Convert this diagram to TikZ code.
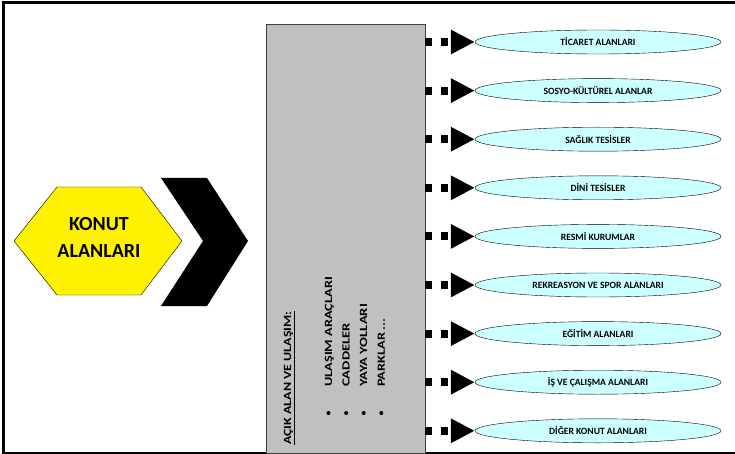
\documentclass[tikz,border=0pt]{standalone}
\usepackage{fontspec}
\setmainfont{Carlito}
\usetikzlibrary{shapes.geometric, arrows.meta}

\definecolor{areacyan}{RGB}{204,255,255}
\definecolor{boxgray}{RGB}{192,192,192}

\tikzset{
  area/.style={draw=black, ellipse, fill=areacyan, minimum width=246pt, minimum height=24pt, inner sep=0pt, font=\fontsize{9.6}{11}\selectfont\bfseries},
  link/.style={line width=8pt, dash pattern=on 7pt off 9pt, -{Triangle[length=24pt,width=23pt]}},
  item/.style={rotate=90, anchor=base west, inner sep=0pt, font=\fontsize{11}{13}\selectfont\bfseries}
}

\begin{document}
\begin{tikzpicture}[x=1pt, y=-1pt]
\useasboundingbox (0,0) rectangle (735,454);

% Frame
\draw[line width=3pt] (3.5,454) -- (3.5,2.5) -- (735,2.5);
\draw[line width=1.2pt] (3.5,453) -- (735,453);

% Konut alanlari
\draw[fill=yellow, thin] (14,241) -- (57,187) -- (141,187) -- (182,241) -- (141,295) -- (57,295) -- cycle;
\node[align=center, font=\fontsize{20}{27}\selectfont\bfseries] (konut) at (99,237) {KONUT\\ALANLARI};

% Chevron
\fill (161,178) -- (207,178) -- (248,241) -- (207,306) -- (161,306) -- (203,241) -- cycle;

% Acik alan ve ulasim
\node[draw=black!75, fill=boxgray, minimum width=159pt, minimum height=429pt, anchor=north west, inner sep=0pt] (box) at (266,24) {};
\node[item] (baslik) at (291,445) {\scalebox{1.27}[1]{\underline{AÇIK ALAN VE ULAŞIM:}}};
\node[item] (arac) at (332,387) {\scalebox{1.3}[1]{ULAŞIM ARAÇLARI}};
\node[item] (cadde) at (349.6,387) {\scalebox{1.33}[1]{CADDELER}};
\node[item] (yaya) at (367.2,387) {\scalebox{1.33}[1]{YAYA YOLLARI}};
\node[item] (park) at (384.8,387) {\scalebox{1.3}[1]{PARKLAR\,...}};
\fill (328.5,413) circle (2pt) (346.1,413) circle (2pt) (363.7,413) circle (2pt) (381.3,413) circle (2pt);

% Areas
\node[area] (ticaret) at (598,42) {TİCARET ALANLARI};
\node[area] (sosyo) at (598,90.6) {SOSYO-KÜLTÜREL ALANLAR};
\node[area] (saglik) at (598,139.2) {SAĞLIK TESİSLER};
\node[area] (dini) at (598,187.8) {DİNİ TESİSLER};
\node[area] (resmi) at (598,236.4) {RESMİ KURUMLAR};
\node[area] (rekreasyon) at (598,285) {REKREASYON VE SPOR ALANLARI};
\node[area] (egitim) at (598,333.6) {EĞİTİM ALANLARI};
\node[area] (is) at (598,382.2) {İŞ VE ÇALIŞMA ALANLARI};
\node[area] (diger) at (598,430.8) {DİĞER KONUT ALANLARI};

% Links
\draw[link] (box.east |- ticaret) -- (ticaret.west);
\draw[link] (box.east |- sosyo) -- (sosyo.west);
\draw[link] (box.east |- saglik) -- (saglik.west);
\draw[link] (box.east |- dini) -- (dini.west);
\draw[link] (box.east |- resmi) -- (resmi.west);
\draw[link] (box.east |- rekreasyon) -- (rekreasyon.west);
\draw[link] (box.east |- egitim) -- (egitim.west);
\draw[link] (box.east |- is) -- (is.west);
\draw[link] (box.east |- diger) -- (diger.west);

\end{tikzpicture}
\end{document}
